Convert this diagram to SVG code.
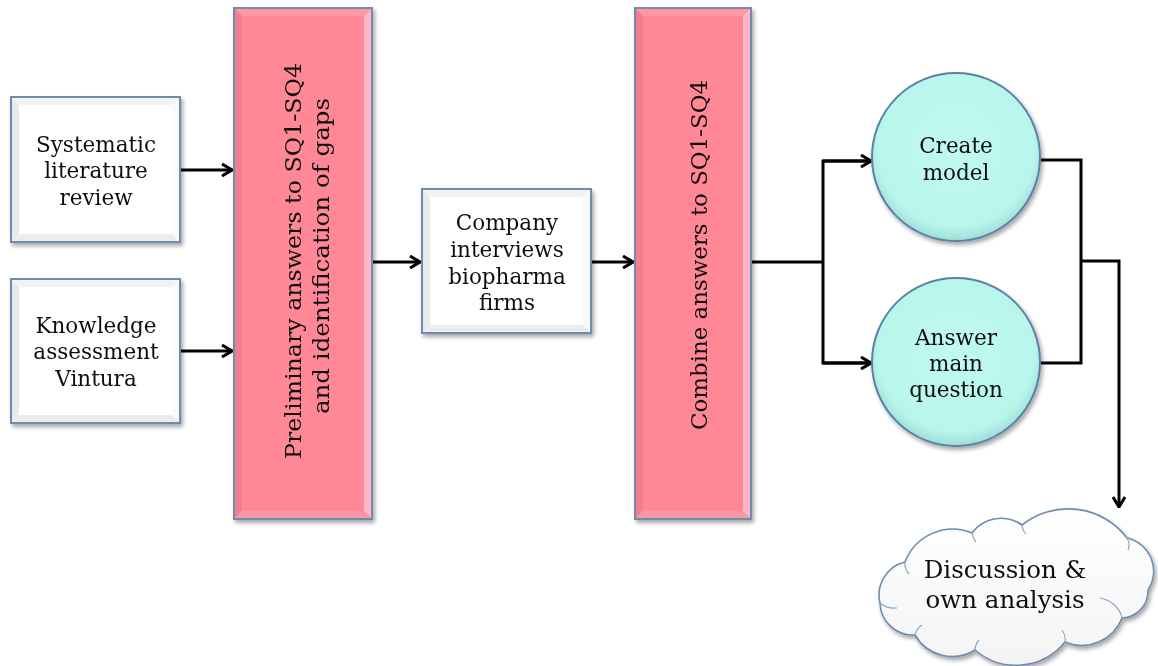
<svg xmlns="http://www.w3.org/2000/svg" width="1158" height="666" viewBox="0 0 1158 666">
  <style>
    .lbl { font-family: "DejaVu Serif", "Liberation Serif", serif; font-size: 21.5px; fill: #111; text-anchor: middle; }
    .big { font-size: 24.5px; }
    .edge { fill: none; stroke: #6e8cb0; stroke-width: 2; }
    .wire { fill: none; stroke: #000; stroke-width: 3; }
    .pink { fill: #ff8796; }
    .white { fill: #ffffff; }
  </style>
  <defs>
    <filter id="shadow" x="-10%" y="-10%" width="130%" height="130%">
      <feGaussianBlur in="SourceAlpha" stdDeviation="2"/>
      <feOffset dx="2" dy="3" result="o"/>
      <feComponentTransfer><feFuncA type="linear" slope="0.35"/></feComponentTransfer>
      <feMerge><feMergeNode/><feMergeNode in="SourceGraphic"/></feMerge>
    </filter>
    <marker id="arrow" viewBox="0 0 12 14" refX="11" refY="7" markerWidth="12" markerHeight="14" markerUnits="userSpaceOnUse" orient="auto">
      <path d="M1,1 L11,7 L1,13" fill="none" stroke="#000" stroke-width="3" stroke-linejoin="miter"/>
    </marker>
    <radialGradient id="aqua" cx="50%" cy="45%" r="55%">
      <stop offset="0" stop-color="#c0faf0"/>
      <stop offset="0.85" stop-color="#b8f6ec"/>
      <stop offset="1" stop-color="#9fdcd6"/>
    </radialGradient>
    <linearGradient id="cloudfill" x1="0" y1="0" x2="0" y2="1">
      <stop offset="0" stop-color="#ffffff"/>
      <stop offset="1" stop-color="#f4f4f4"/>
    </linearGradient>
  </defs>

  <!-- connectors -->
  <g id="connectors">
    <line class="wire" x1="180" y1="170" x2="232" y2="170" marker-end="url(#arrow)"/>
    <line class="wire" x1="180" y1="351" x2="232" y2="351" marker-end="url(#arrow)"/>
    <line class="wire" x1="372" y1="262" x2="420" y2="262" marker-end="url(#arrow)"/>
    <line class="wire" x1="591" y1="262" x2="633" y2="262" marker-end="url(#arrow)"/>
    <polyline class="wire" points="751,262 823,262"/>
    <polyline class="wire" points="872,161 823,161 823,363 872,363"/>
    <line class="wire" x1="823" y1="161" x2="871" y2="161" marker-end="url(#arrow)"/>
    <line class="wire" x1="823" y1="363" x2="871" y2="363" marker-end="url(#arrow)"/>
    <polyline class="wire" points="1041,160 1081,160 1081,363 1041,363"/>
    <polyline class="wire" points="1081,261 1119,261 1119,507" marker-end="url(#arrow)"/>
  </g>

  <!-- Systematic literature review -->
  <g id="n-slr" filter="url(#shadow)">
    <rect class="white" x="11" y="97" width="169" height="145"/>
    <polygon points="11,97 180,97 172,105 19,105" fill="#f3f3f3"/>
    <polygon points="11,97 19,105 19,234 11,242" fill="#e9e9e9"/>
    <polygon points="180,97 172,105 172,234 180,242" fill="#fafafa"/>
    <polygon points="11,242 19,234 172,234 180,242" fill="#ececec"/>
    <rect class="edge" x="11" y="97" width="169" height="145"/>
    <text class="lbl" x="96" y="152">Systematic</text>
    <text class="lbl" x="96" y="178">literature</text>
    <text class="lbl" x="96" y="205">review</text>
  </g>

  <!-- Knowledge assessment Vintura -->
  <g id="n-kav" filter="url(#shadow)">
    <rect class="white" x="11" y="279" width="169" height="144"/>
    <polygon points="11,279 180,279 172,287 19,287" fill="#f3f3f3"/>
    <polygon points="11,279 19,287 19,415 11,423" fill="#e9e9e9"/>
    <polygon points="180,279 172,287 172,415 180,423" fill="#fafafa"/>
    <polygon points="11,423 19,415 172,415 180,423" fill="#ececec"/>
    <rect class="edge" x="11" y="279" width="169" height="144"/>
    <text class="lbl" x="96" y="333">Knowledge</text>
    <text class="lbl" x="96" y="359">assessment</text>
    <text class="lbl" x="96" y="386">Vintura</text>
  </g>

  <!-- Preliminary answers -->
  <g id="n-prelim" filter="url(#shadow)">
    <rect class="pink" x="234" y="8" width="138" height="511"/>
    <polygon points="234,8 372,8 364,16 242,16" fill="#ff97a4"/>
    <polygon points="234,8 242,16 242,511 234,519" fill="#f27d8c"/>
    <polygon points="372,8 364,16 364,511 372,519" fill="#ffb6c2"/>
    <polygon points="234,519 242,511 364,511 372,519" fill="#f898a6"/>
    <rect class="edge" x="234" y="8" width="138" height="511"/>
    <text class="lbl" transform="translate(301,261) rotate(-90)" textLength="396" lengthAdjust="spacingAndGlyphs">Preliminary answers to SQ1-SQ4</text>
    <text class="lbl" transform="translate(329,256) rotate(-90)" textLength="316" lengthAdjust="spacingAndGlyphs">and identification of gaps</text>
  </g>

  <!-- Company interviews -->
  <g id="n-interviews" filter="url(#shadow)">
    <rect class="white" x="422" y="189" width="169" height="144"/>
    <polygon points="422,189 591,189 583,197 430,197" fill="#f3f3f3"/>
    <polygon points="422,189 430,197 430,325 422,333" fill="#e9e9e9"/>
    <polygon points="591,189 583,197 583,325 591,333" fill="#fafafa"/>
    <polygon points="422,333 430,325 583,325 591,333" fill="#ececec"/>
    <rect class="edge" x="422" y="189" width="169" height="144"/>
    <text class="lbl" x="507" y="230">Company</text>
    <text class="lbl" x="507" y="257">interviews</text>
    <text class="lbl" x="507" y="284">biopharma</text>
    <text class="lbl" x="507" y="310">firms</text>
  </g>

  <!-- Combine answers -->
  <g id="n-combine" filter="url(#shadow)">
    <rect class="pink" x="635" y="8" width="116" height="511"/>
    <polygon points="635,8 751,8 743,16 643,16" fill="#ff97a4"/>
    <polygon points="635,8 643,16 643,511 635,519" fill="#f27d8c"/>
    <polygon points="751,8 743,16 743,511 751,519" fill="#ffb6c2"/>
    <polygon points="635,519 643,511 743,511 751,519" fill="#f898a6"/>
    <rect class="edge" x="635" y="8" width="116" height="511"/>
    <text class="lbl" transform="translate(707,255) rotate(-90)" textLength="350" lengthAdjust="spacingAndGlyphs">Combine answers to SQ1-SQ4</text>
  </g>

  <!-- Create model -->
  <g id="n-model" filter="url(#shadow)">
    <circle cx="956" cy="157" r="84" fill="url(#aqua)" stroke="#5b80a8" stroke-width="2"/>
    <text class="lbl" x="956" y="153">Create</text>
    <text class="lbl" x="956" y="180">model</text>
  </g>

  <!-- Answer main question -->
  <g id="n-answer" filter="url(#shadow)">
    <circle cx="956" cy="362" r="84" fill="url(#aqua)" stroke="#5b80a8" stroke-width="2"/>
    <text class="lbl" x="956" y="345">Answer</text>
    <text class="lbl" x="956" y="371">main</text>
    <text class="lbl" x="956" y="397">question</text>
  </g>

  <!-- Discussion cloud -->
  <g id="n-discussion" filter="url(#shadow)">
    <path d="M880,603 A34,34 0 0 1 905,562 A51,51 0 0 1 972,533 A36,36 0 0 1 1022,525 A74,74 0 0 1 1127,538 A34,34 0 0 1 1148,590 A27,27 0 0 1 1122,618 A43,43 0 0 1 1065,642 A63,63 0 0 1 975,650 A43,43 0 0 1 915,635 A33,33 0 0 1 880,603 Z" fill="url(#cloudfill)" stroke="#6e8cb0" stroke-width="1.6"/>
    <path d="M905,562 A22,18 0 0 0 909,574 M972,533 A22,18 0 0 0 976,542 M1022,525 A20,16 0 0 0 1026,534 M1127,538 A20,16 0 0 1 1128,550 M1122,618 A28,25 0 0 0 1100,598 M1065,642 A22,18 0 0 0 1062,630 M975,650 A22,18 0 0 1 979,640 M915,635 A20,16 0 0 1 922,625 M880,603 A20,16 0 0 0 897,608" fill="none" stroke="#8ea6c4" stroke-width="1.2"/>
    <text class="lbl big" x="1005" y="578">Discussion &amp;</text>
    <text class="lbl big" x="1005" y="608">own analysis</text>
  </g>
</svg>
